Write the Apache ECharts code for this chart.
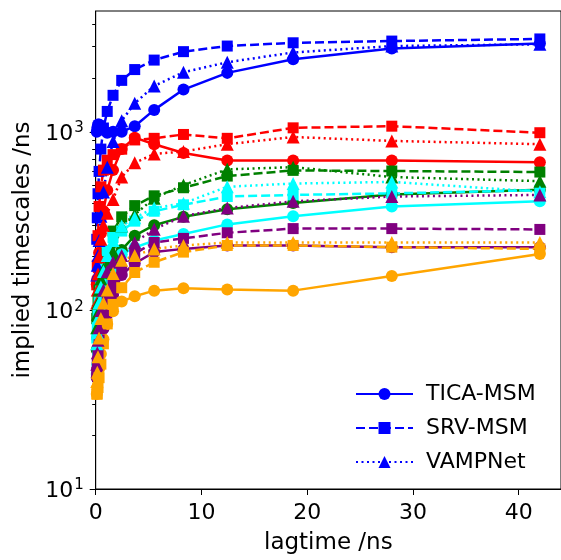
<!DOCTYPE html>
<html>
<head>
<meta charset="utf-8">
<script src="https://cdn.jsdelivr.net/npm/echarts@6/dist/echarts.min.js"></script>
<style>html,body{margin:0;padding:0;background:#fff}#c{width:561px;height:560px}</style>
</head>
<body>
<div id="c"></div>
<script>
// lag times (ns)
const lagtimes = [0.1, 0.15, 0.22, 0.32, 0.49, 0.73, 1.09, 1.64, 2.46, 3.69, 5.53, 8.3, 12.44, 18.67, 28, 42];
const methods = ['TICA-MSM', 'SRV-MSM', 'VAMPNet'];
const colors = ['#0000ff', '#ff0000', '#008000', '#00ffff', '#800080', '#ffa500'];
const yTickValues = [10, 100, 1000];
const xTickValues = [0, 10, 20, 30, 40];

// TICA-MSM (solid, circles)
const ticaBlue   = [1000, 1050, 1100, 1100, 1080, 1030, 987, 1000, 1000, 1075, 1326, 1723, 2137, 2550, 2930, 3120];
const ticaRed    = [140, 150, 170, 210, 270, 360, 470, 610, 800, 927, 852, 760, 690, 690, 690, 676];
const ticaGreen  = [60, 70, 80, 95, 110, 130, 160, 190, 218, 262, 300, 334, 368, 399, 445, 474];
const ticaCyan   = [44, 50, 57, 69, 84, 108, 139, 170, 206, 225, 246, 268, 303, 337, 382, 408];
const ticaPurple = [42, 44, 50, 57, 65, 79, 95, 122, 158, 183, 212, 221, 231, 231, 226, 226];
const ticaOrange = [34, 37, 42, 47, 57, 69, 84, 99, 112, 120, 129, 133, 131, 129, 156, 207];
// SRV-MSM (dashed, squares)
const srvBlue    = [250, 330, 450, 600, 800, 1050, 1300, 1600, 1940, 2230, 2520, 2810, 3020, 3150, 3220, 3310];
const srvRed     = [139, 179, 262, 382, 492, 610, 693, 745, 799, 900, 919, 966, 919, 1052, 1075, 988];
const srvGreen   = [90, 100, 115, 130, 150, 170, 213, 278, 334, 386, 438, 486, 565, 608, 603, 595];
const srvCyan    = [70, 80, 95, 115, 140, 170, 216, 256, 278, 316, 359, 390, 434, 443, 452, 471];
const srvPurple  = [45, 50, 58, 68, 80, 95, 115, 139, 165, 208, 240, 253, 272, 287, 287, 284];
const srvOrange  = [34, 34, 37, 42, 50, 65, 84, 108, 134, 163, 186, 212, 231, 231, 226, 221];
// VAMPNet (dotted, triangles)
const vampBlue   = [158, 179, 203, 246, 337, 460, 634, 881, 1154, 1443, 1805, 2155, 2450, 2780, 3020, 3090];
const vampRed    = [110, 130, 160, 200, 250, 300, 350, 418, 558, 670, 751, 776, 852, 935, 889, 852];
const vampGreen  = [80, 95, 110, 130, 150, 170, 180, 213, 297, 344, 425, 503, 616, 634, 558, 529];
const vampCyan   = [65, 75, 90, 110, 135, 165, 203, 246, 297, 330, 374, 398, 492, 513, 524, 462];
const vampPurple = [50, 58, 68, 80, 100, 130, 165, 186, 203, 240, 285, 337, 374, 408, 434, 443];
const vampOrange = [40, 45, 55, 70, 90, 110, 130, 161, 191, 203, 221, 231, 240, 240, 240, 240];

const groups = [
  {name: methods[0], data: [ticaBlue, ticaRed, ticaGreen, ticaCyan, ticaPurple, ticaOrange], symbol: 'circle', size: 12, type: 'solid'},
  {name: methods[1], data: [srvBlue, srvRed, srvGreen, srvCyan, srvPurple, srvOrange], symbol: 'rect', size: 11, type: [9, 4]},
  {name: methods[2], data: [vampBlue, vampRed, vampGreen, vampCyan, vampPurple, vampOrange], symbol: 'triangle', size: 13, type: [2, 3.5]}
];

const minorTicks = [];
for (let e = 1; e <= 3; e++) for (let m = 2; m <= 9; m++) { const v = m * Math.pow(10, e); if (v < 4745) minorTicks.push(v); }

const series = [];
groups.forEach(g => {
  g.data.forEach((arr, ci) => {
    series.push({
      name: ci === 0 ? g.name : g.name + ' ' + ci,
      type: 'line',
      data: lagtimes.map((x, i) => [x, arr[i]]),
      symbol: g.symbol,
      symbolSize: g.size,
      showSymbol: true,
      animation: false,
      color: colors[ci],
      lineStyle: {color: colors[ci], width: 2.5, type: g.type},
      itemStyle: {color: colors[ci], borderWidth: 0}
    });
  });
});

const font = 'DejaVu Sans';
const chart = echarts.init(document.getElementById('c'), null, {renderer: 'canvas'});
chart.setOption({
  animation: false,
  textStyle: {fontFamily: font},
  grid: {left: 95.7, top: 11, right: -13, bottom: 62.3, show: true, borderColor: '#000', borderWidth: 1, backgroundColor: 'transparent'},
  legend: {
    data: methods,
    orient: 'vertical',
    left: 355, top: 383, padding: 0,
    itemWidth: 57, itemHeight: 15, itemGap: 12,
    textStyle: {fontFamily: font, fontSize: 22, lineHeight: 22, color: '#000', padding: [0, 0, 0, 8]}
  },
  xAxis: {
    type: 'value', min: 0, max: 44, interval: 10,
    name: 'lagtime /ns', nameLocation: 'middle', nameGap: 43,
    nameTextStyle: {fontFamily: font, fontSize: 23, color: '#000'},
    axisLine: {lineStyle: {color: '#000', width: 1}},
    axisTick: {length: 6, lineStyle: {color: '#000'}, customValues: xTickValues},
    axisLabel: {customValues: xTickValues, fontFamily: font, fontSize: 22, color: '#000', margin: 13},
    splitLine: {show: false}
  },
  yAxis: [{
    type: 'log', logBase: 10, min: 10, max: 4745,
    name: 'implied timescales /ns', nameLocation: 'middle', nameGap: 51,
    nameTextStyle: {fontFamily: font, fontSize: 23, color: '#000'},
    axisLine: {show: true, lineStyle: {color: '#000', width: 1}},
    axisTick: {show: true, length: 6, lineStyle: {color: '#000'}, customValues: yTickValues},
    axisLabel: {
      customValues: yTickValues, margin: 12,
      formatter: v => '{b|10}{s|' + Math.round(Math.log10(v)) + '}',
      rich: {b: {fontFamily: font, fontSize: 22, color: '#000', padding: [4, 0, 0, 0]}, s: {fontFamily: font, fontSize: 15, color: '#000', padding: [0, 0, 7, 1]}}
    },
    splitLine: {show: false}
  }, {
    type: 'log', logBase: 10, min: 10, max: 4745, position: 'left',
    axisLine: {show: false},
    axisTick: {show: true, length: 3.5, lineStyle: {color: '#000'}, customValues: minorTicks},
    axisLabel: {show: false},
    splitLine: {show: false}
  }],
  series: series
});
</script>
</body>
</html>
